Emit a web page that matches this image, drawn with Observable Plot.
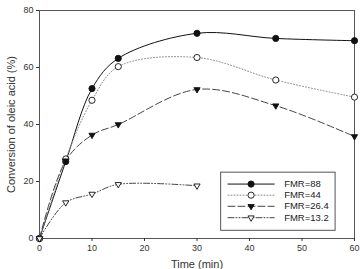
<!DOCTYPE html>
<html><head><meta charset="utf-8">
<script src="https://cdn.jsdelivr.net/npm/d3@7"></script>
<script src="https://cdn.jsdelivr.net/npm/@observablehq/plot@0.6"></script>
<style>body{margin:0;background:#fff}svg{font-family:"Liberation Sans",Arial,sans-serif}</style>
</head><body><div id="chart"></div>
<script>
const times = [0, 5, 10, 15, 30, 45, 60];
const times13 = [0, 5, 10, 15, 30];
const fmr88 = [0, 27, 52.6, 63.2, 72, 70.2, 69.4];
const fmr44 = [0, 27.9, 48.5, 60.3, 63.5, 55.6, 49.6];
const fmr26 = [0, 27.3, 36.3, 40, 52.3, 46.6, 35.8];
const fmr13 = [0, 12.6, 15.6, 19, 18.5];
const seriesNames = ["FMR=88", "FMR=44", "FMR=26.4", "FMR=13.2"];
const xTicks = [0, 10, 20, 30, 40, 50, 60];
const yTicks = [0, 20, 40, 60, 80];

const styles = {
  "FMR=88":   {stroke: "#111", dash: null, symbol: "circle", fill: "#111", rotate: 0},
  "FMR=44":   {stroke: "#888", dash: "1,2", symbol: "circle", fill: "white", rotate: 0},
  "FMR=26.4": {stroke: "#444", dash: "7,3", symbol: "triangle", fill: "#111", rotate: 180},
  "FMR=13.2": {stroke: "#444", dash: "6,2,1,2,1,2", symbol: "triangle", fill: "white", rotate: 180}
};
const seriesData = [
  [seriesNames[0], times, fmr88],
  [seriesNames[1], times, fmr44],
  [seriesNames[2], times, fmr26],
  [seriesNames[3], times13, fmr13]
].map(([name, xs, ys]) => ({name, pts: xs.map((t, i) => ({t, v: ys[i]}))}));

const rFor = st => st.symbol === "circle" ? 3.1 : 2.3;
const marks = [];
for (const s of seriesData) {
  const st = styles[s.name];
  marks.push(Plot.line(s.pts, {x: "t", y: "v", curve: "catmull-rom", stroke: st.stroke, strokeWidth: 1, strokeDasharray: st.dash}));
}
for (const s of seriesData) {
  const st = styles[s.name];
  marks.push(Plot.dot(s.pts, {x: "t", y: "v", symbol: () => st.symbol, rotate: st.rotate, r: rFor(st), fill: st.fill, stroke: "#111", strokeWidth: 0.9}));
}

// legend placed in data space (lower right)
const legX0 = 34.6, legX1 = 56.4, legY0 = 2.7, legY1 = 23.1;
const rowY = [19.1, 15.2, 11.3, 7.3];
marks.push(Plot.rect([{x1: legX0, x2: legX1, y1: legY0, y2: legY1}], {x1: "x1", x2: "x2", y1: "y1", y2: "y2", fill: "white", stroke: "#555", strokeWidth: 1}));
seriesNames.forEach((n, i) => {
  const st = styles[n];
  marks.push(Plot.line([{t: 35.9, v: rowY[i]}, {t: 44.7, v: rowY[i]}], {x: "t", y: "v", stroke: st.stroke, strokeWidth: 1, strokeDasharray: st.dash}));
  marks.push(Plot.dot([{t: 40.3, v: rowY[i]}], {x: "t", y: "v", symbol: () => st.symbol, rotate: st.rotate, r: rFor(st), fill: st.fill, stroke: "#111", strokeWidth: 0.9}));
  marks.push(Plot.text([{t: 46.6, v: rowY[i], label: n}], {x: "t", y: "v", text: "label", textAnchor: "start", fontSize: 9.5, fill: "#222"}));
});

const chart = Plot.plot({
  width: 360, height: 269,
  marginLeft: 39, marginRight: 6, marginTop: 10, marginBottom: 31,
  style: {fontFamily: '"Liberation Sans", Arial, sans-serif', background: "white"},
  x: {domain: [0, 60]},
  y: {domain: [0, 80]},
  marks: [
    Plot.frame({stroke: "#555", strokeWidth: 1}),
    Plot.axisX({ticks: xTicks, tickSize: 3, tickPadding: 3, fontSize: 9, label: "Time (min)", labelAnchor: "center", labelArrow: "none", labelOffset: 29, color: "#333"}),
    Plot.axisY({ticks: yTicks, tickSize: 3, tickPadding: 3, fontSize: 9, label: "Conversion of oleic acid (%)", labelAnchor: "center", labelArrow: "none", labelOffset: 32, color: "#333"}),
    ...marks
  ]
});
chart.querySelectorAll('[aria-label="x-axis label"] text, [aria-label="y-axis label"] text').forEach(t => t.style.fontSize = "11px");
document.getElementById("chart").appendChild(chart);
</script></body></html>
